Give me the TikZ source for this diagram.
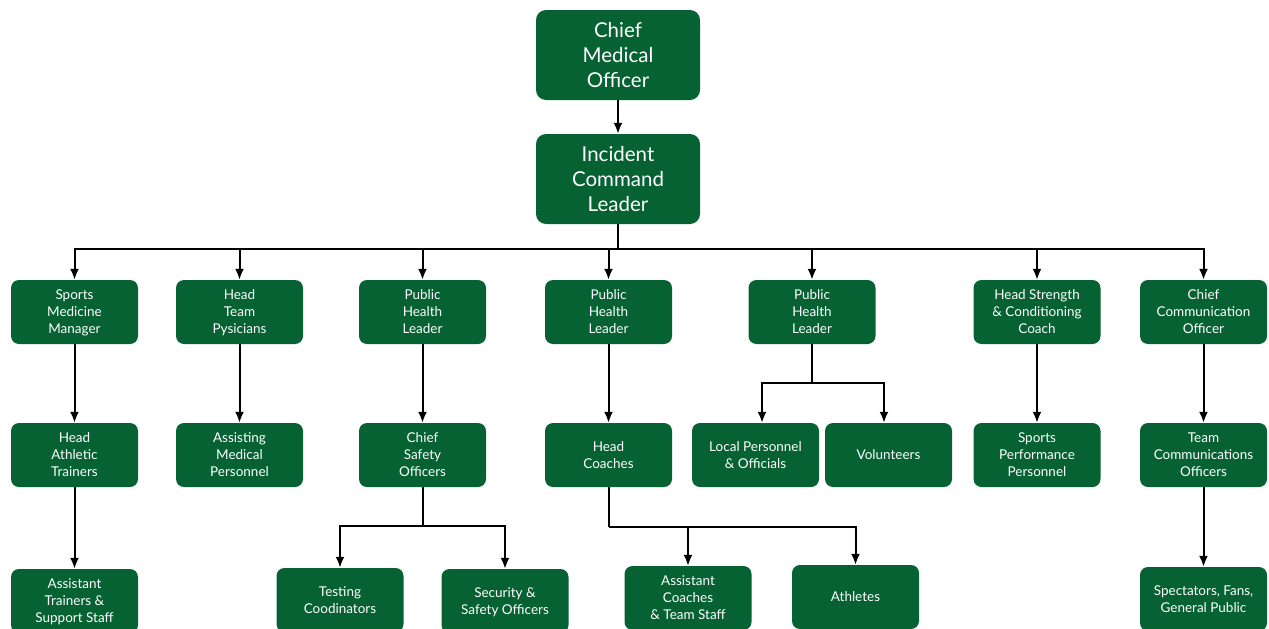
\documentclass[tikz,border=0pt]{standalone}
\usepackage{fontspec}
\setmainfont{Lato}
\usetikzlibrary{arrows.meta}
\definecolor{boxgreen}{RGB}{6,98,50}
\tikzset{
  box/.style={fill=boxgreen, rounded corners=8pt, minimum width=127pt, minimum height=64pt,
    text=white, align=center, inner sep=2pt, text depth=0pt, font=\fontsize{13.5pt}{17pt}\selectfont},
  bigbox/.style={box, rounded corners=10pt, minimum width=164pt, minimum height=90pt,
    font=\fontsize{20.5pt}{25pt}\selectfont},
  line/.style={draw=black, line width=2pt},
  arr/.style={line, -{Latex[width=9pt,length=11pt]}},
}
\begin{document}
\begin{tikzpicture}[x=1pt,y=-1pt]
\useasboundingbox (0,0) rectangle (1269,629);
% top
\node[bigbox] (cmo) at (618,55) {Chief\\Medical\\Officer};
\node[bigbox] (icl) at (618,179) {Incident\\Command\\Leader};
% row 1
\node[box] (sm) at (74.5,312) {Sports\\Medicine\\Manager};
\node[box] (htp) at (239.5,312) {Head\\Team\\Pysicians};
\node[box] (ph1) at (422.5,312) {Public\\Health\\Leader};
\node[box] (ph2) at (608.5,312) {Public\\Health\\Leader};
\node[box] (ph3) at (812,312) {Public\\Health\\Leader};
\node[box] (hsc) at (1037,312) {Head Strength\\\& Conditioning\\Coach};
\node[box] (cco) at (1203.5,312) {Chief\\Communication\\Officer};
% row 2
\node[box] (hat) at (74.5,455) {Head\\Athletic\\Trainers};
\node[box] (amp) at (239.5,455) {Assisting\\Medical\\Personnel};
\node[box] (cso) at (422.5,455) {Chief\\Safety\\Officers};
\node[box] (hc) at (608.5,455) {Head\\Coaches};
\node[box] (lp) at (755.5,455) {Local Personnel\\\& Officials};
\node[box] (vol) at (888.5,455) {Volunteers};
\node[box] (spp) at (1037,455) {Sports\\Performance\\Personnel};
\node[box] (tco) at (1203.5,455) {Team\\Communications\\Officers};
% row 3
\node[box] (ats) at (74.5,601) {Assistant\\Trainers \&\\Support Staff};
\node[box] (tc) at (340,600) {Testing\\Coodinators};
\node[box] (sso) at (505,601) {Security \&\\Safety Officers};
\node[box] (acs) at (688,598) {Assistant\\Coaches\\\& Team Staff};
\node[box] (ath) at (855.5,597) {Athletes};
\node[box] (spf) at (1203.5,599) {Spectators, Fans,\\General Public};
% connectors
\draw[arr] (cmo) -- (icl);
\coordinate (bus) at (618,249);
\draw[line] (icl.south) -- (bus);
\foreach \n in {sm,htp,ph1,ph2,ph3,hsc,cco}{
  \draw[arr] (bus) -| (\n.north);
}
\draw[arr] (sm) -- (hat);
\draw[arr] (htp) -- (amp);
\draw[arr] (ph1) -- (cso);
\draw[arr] (ph2) -- (hc);
\draw[arr] (hsc) -- (spp);
\draw[arr] (cco) -- (tco);
\draw[arr] (hat) -- (ats);
\draw[arr] (tco) -- (spf);
% split from public health leader 3
\coordinate (b3) at (812,383);
\draw[line] (ph3.south) -- (b3);
\draw[arr] (b3) -| ([xshift=6.5pt]lp.north);
\draw[arr] (b3) -| ([xshift=-4.5pt]vol.north);
% split from chief safety officers
\coordinate (b4) at (422.5,526);
\draw[line] (cso.south) -- (b4);
\draw[arr] (b4) -| (tc.north);
\draw[arr] (b4) -| (sso.north);
% split from head coaches
\coordinate (b5) at (608.5,527);
\draw[line] (hc.south) -- (b5);
\draw[arr] (b5) -| (acs.north);
\draw[arr] (b5) -| (ath.north);
\end{tikzpicture}
\end{document}
